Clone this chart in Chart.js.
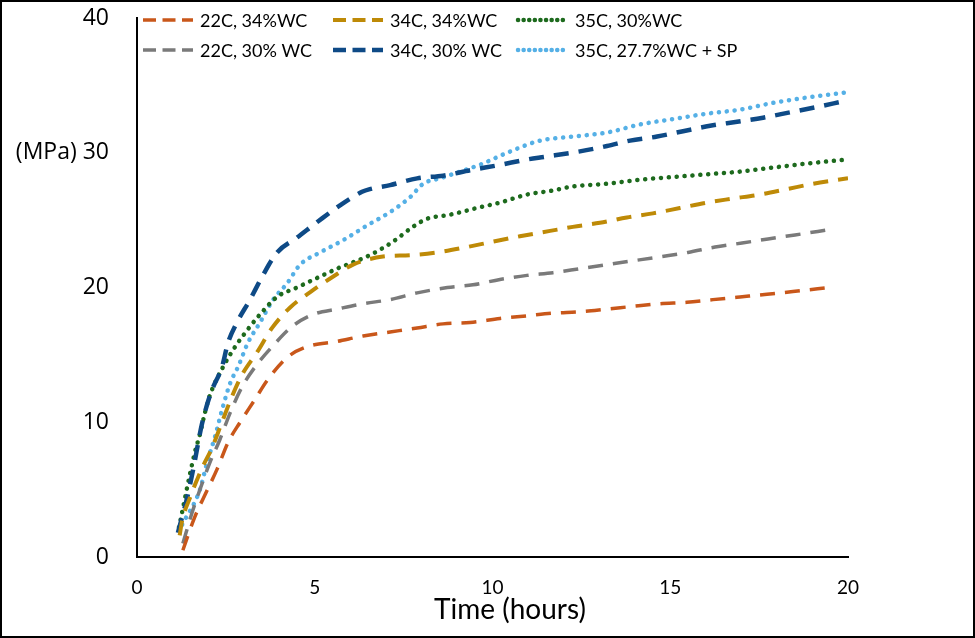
<!DOCTYPE html>
<html>
<head>
<meta charset="utf-8">
<script src="https://cdn.jsdelivr.net/npm/chart.js@4.4.1/dist/chart.umd.min.js"></script>
<style>
    html, body { margin: 0; padding: 0; background: #fff; }
    #wrap { width: 975px; height: 638px; position: relative; }
</style>
</head>
<body>
<div id="wrap"><canvas id="strengthChart"></canvas></div>
<script>
// Series labels
const seriesNames = ['22C, 34%WC', '22C, 30% WC', '34C, 34%WC', '34C, 30% WC', '35C, 30%WC', '35C, 27.7%WC + SP'];

// Time (hours) and strength (MPa)
const t22c34 = [1.29, 1.63, 1.91, 2.25, 2.56, 2.90, 3.32, 3.66, 4.22, 4.78, 5.63, 6.36, 7.12, 7.88, 8.61, 9.37, 10.21, 10.97, 11.70, 12.46, 13.22, 13.95, 14.71, 15.47, 16.20, 16.96, 17.72, 18.45, 19.49];
const v22c34 = [0.5, 3.0, 4.6, 6.5, 8.5, 10.0, 11.7, 13.1, 14.8, 15.6, 16.0, 16.4, 16.7, 17.0, 17.3, 17.4, 17.7, 17.9, 18.1, 18.2, 18.4, 18.6, 18.8, 18.9, 19.1, 19.3, 19.5, 19.7, 20.0];

const t22c30 = [1.29, 1.55, 1.77, 2.05, 2.33, 2.62, 2.95, 3.32, 3.80, 4.36, 4.95, 5.63, 6.36, 7.12, 7.88, 8.73, 9.45, 10.21, 10.97, 11.70, 12.46, 13.22, 14.0, 14.77, 15.50, 16.26, 17.02, 17.75, 18.51, 19.49];
const v22c30 = [1.0, 3.3, 5.0, 7.0, 8.7, 10.7, 12.6, 14.1, 15.6, 17.1, 18.0, 18.4, 18.8, 19.1, 19.6, 20.0, 20.2, 20.6, 20.9, 21.1, 21.4, 21.7, 22.0, 22.3, 22.6, 23.0, 23.3, 23.6, 23.9, 24.3];

const t34c34 = [1.2, 1.27, 1.49, 1.83, 2.11, 2.39, 2.67, 2.95, 3.38, 3.80, 4.30, 4.95, 5.51, 6.08, 6.92, 7.68, 8.44, 9.28, 10.01, 10.77, 11.62, 12.26, 13.02, 13.78, 14.51, 15.27, 16.03, 16.76, 17.52, 18.28, 19.02, 20.0];
const v34c34 = [1.6, 2.7, 4.4, 6.6, 8.1, 10.0, 11.9, 13.5, 15.2, 17.0, 18.5, 19.8, 20.8, 21.7, 22.3, 22.4, 22.6, 23.0, 23.4, 23.8, 24.2, 24.5, 24.8, 25.2, 25.5, 25.9, 26.3, 26.6, 26.9, 27.3, 27.7, 28.1];

const t34c30 = [1.15, 1.41, 1.58, 1.83, 2.08, 2.39, 2.56, 2.81, 3.18, 3.54, 3.94, 4.50, 5.09, 5.71, 6.33, 6.55, 7.12, 7.88, 8.61, 9.37, 10.21, 10.97, 11.48, 12.46, 13.22, 13.87, 14.63, 15.36, 16.12, 16.88, 17.61, 18.37, 19.13, 19.83];
const v34c30 = [1.8, 4.4, 6.5, 9.9, 12.2, 14.1, 15.9, 17.4, 19.1, 20.9, 22.6, 23.7, 24.9, 26.1, 27.1, 27.3, 27.6, 28.1, 28.3, 28.7, 29.1, 29.5, 29.7, 30.1, 30.5, 30.9, 31.2, 31.6, 32.0, 32.3, 32.6, 33.0, 33.4, 33.8];

const t35c30 = [1.18, 1.63, 1.77, 1.91, 2.05, 2.42, 2.76, 3.09, 3.46, 3.94, 4.50, 5.06, 5.63, 6.55, 7.20, 7.76, 8.16, 8.80, 9.56, 10.21, 10.97, 11.70, 12.26, 13.22, 14.15, 15.08, 16.03, 16.96, 17.89, 18.85, 20.0];
const v35c30 = [2.2, 7.8, 9.1, 10.7, 12.0, 14.1, 15.6, 16.8, 18.0, 19.3, 20.0, 20.7, 21.4, 22.4, 23.4, 24.5, 25.1, 25.4, 25.9, 26.3, 26.9, 27.2, 27.5, 27.7, 28.0, 28.2, 28.4, 28.6, 28.9, 29.2, 29.5];

const t35sp = [1.27, 1.77, 1.97, 2.19, 2.39, 2.62, 2.84, 3.12, 3.46, 3.83, 4.22, 4.59, 5.15, 5.79, 6.47, 7.12, 7.68, 8.05, 8.52, 9.09, 9.73, 10.41, 11.34, 12.26, 13.22, 14.15, 15.08, 16.03, 16.96, 17.89, 18.85, 20.0];
const v35sp = [2.4, 5.0, 7.0, 8.9, 10.9, 12.9, 14.1, 15.9, 17.4, 19.1, 20.3, 21.7, 22.6, 23.5, 24.6, 25.6, 26.7, 27.7, 28.1, 28.6, 29.2, 30.0, 30.9, 31.2, 31.5, 32.1, 32.5, 32.9, 33.2, 33.7, 34.1, 34.5];

// Axis ticks
const xTicks = [0, 5, 10, 15, 20];
const yTicks = [0, 10, 20, 30, 40];

const DASH = [15, 10];
const DOT = [0.1, 7.8];
const TEXT_FONT = 'Lato, "Open Sans", sans-serif';

function pts(ts, vs) {
    return ts.map((t, i) => ({ x: t, y: vs[i] }));
}

function makeSet(label, ts, vs, color, width, dash) {
    return {
        label: label,
        data: pts(ts, vs),
        borderColor: color,
        backgroundColor: color,
        borderWidth: width,
        borderDash: dash,
        borderCapStyle: dash === DOT ? 'round' : 'butt',
        pointRadius: 0,
        cubicInterpolationMode: 'monotone',
        fill: false
    };
}

const datasets = [
    makeSet(seriesNames[0], t22c34, v22c34, '#C9571A', 3.5, DASH),
    makeSet(seriesNames[1], t22c30, v22c30, '#7A7A7A', 3.5, DASH),
    makeSet(seriesNames[2], t34c34, v34c34, '#BE8A07', 4, DASH),
    makeSet(seriesNames[3], t34c30, v34c30, '#0E4A86', 4.5, DASH),
    makeSet(seriesNames[4], t35c30, v35c30, '#1D6A1D', 4.5, DOT),
    makeSet(seriesNames[5], t35sp, v35sp, '#55B0E6', 4.5, DOT)
];

// Legend drawn inside the plot, 3 columns x 2 rows, plus axis title and frame
const legendGrid = {
    id: 'legendGrid',
    afterDraw(chart) {
        const c = chart.ctx;
        const colX = [143, 333, 518];
        const rowY = [20, 50];
        c.save();
        chart.data.datasets.forEach((ds, i) => {
            const x = colX[Math.floor(i / 2)];
            const y = rowY[i % 2];
            c.beginPath();
            c.strokeStyle = ds.borderColor;
            c.lineWidth = ds.borderWidth;
            c.lineCap = ds.borderCapStyle;
            c.setLineDash(ds.borderDash === DASH ? [13, 6.5] : [0.1, 5.5]);
            c.moveTo(x, y);
            c.lineTo(x + 50, y);
            c.stroke();
            c.setLineDash([]);
            c.fillStyle = '#000';
            c.font = '18px ' + TEXT_FONT;
            c.textBaseline = 'middle';
            c.textAlign = 'left';
            c.fillText(ds.label, x + 57, y + 1);
        });
        // x axis title
        c.font = '28px ' + TEXT_FONT;
        c.textAlign = 'center';
        c.textBaseline = 'alphabetic';
        c.fillText('Time (hours)', 510, 619);
        // outer frame
        c.strokeStyle = '#000';
        c.lineWidth = 2;
        c.strokeRect(1, 1, chart.width - 2, chart.height - 2);
        c.restore();
    }
};

const ctx = document.getElementById('strengthChart').getContext('2d');

new Chart(ctx, {
    type: 'line',
    data: { datasets: datasets },
    options: {
        responsive: true,
        maintainAspectRatio: false,
        animation: false,
        layout: { padding: { left: 0, right: 127, top: 18, bottom: 0 } },
        plugins: {
            legend: { display: false },
            tooltip: { enabled: false }
        },
        scales: {
            x: {
                type: 'linear',
                min: xTicks[0],
                max: xTicks[xTicks.length - 1],
                afterBuildTicks: (s) => { s.ticks = xTicks.map(v => ({ value: v })); },
                afterFit: (s) => { s.height = 81; },
                grid: { display: false, drawTicks: false },
                border: { display: true, color: '#000', width: 2 },
                ticks: {
                    color: '#000',
                    padding: 19,
                    maxRotation: 0,
                    font: { family: TEXT_FONT, size: 19 }
                }
            },
            y: {
                min: yTicks[0],
                max: yTicks[yTicks.length - 1],
                afterBuildTicks: (s) => { s.ticks = yTicks.map(v => ({ value: v })); },
                afterFit: (s) => { s.width = 137; s.paddingTop = 10; s.paddingBottom = 10; },
                grid: { display: false, drawTicks: false },
                border: { display: true, color: '#000', width: 2 },
                ticks: {
                    color: '#000',
                    padding: 28,
                    font: { family: '"Open Sans", sans-serif', size: 23 },
                    callback: (v) => v === 30 ? '(MPa) 30' : String(v)
                }
            }
        }
    },
    plugins: [legendGrid]
});
</script>
</body>
</html>
